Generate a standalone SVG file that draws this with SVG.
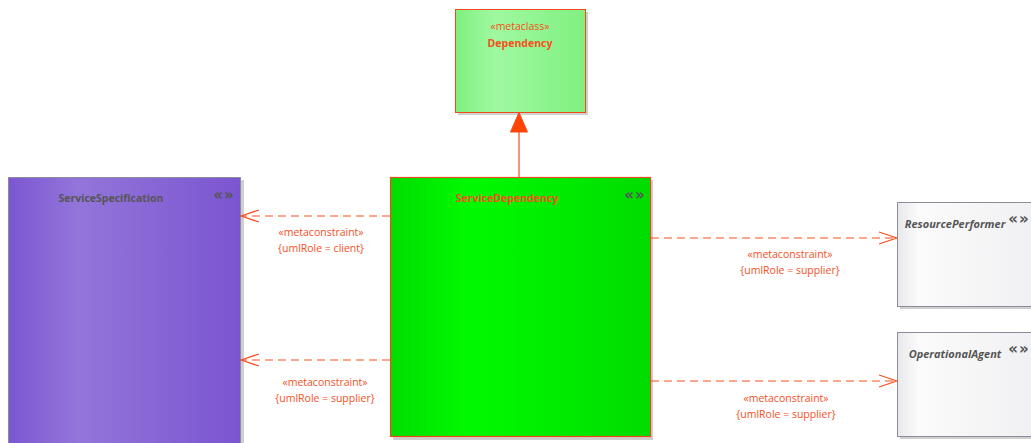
<svg xmlns="http://www.w3.org/2000/svg" width="1031" height="443" viewBox="0 0 1031 443">
<defs>
<linearGradient id="gPurple" x1="0" y1="0" x2="1" y2="0">
<stop offset="0" stop-color="#7c56d2"/><stop offset="0.3" stop-color="#9375da"/><stop offset="1" stop-color="#7b55d0"/>
</linearGradient>
<linearGradient id="gGreen" x1="0" y1="0" x2="1" y2="0">
<stop offset="0" stop-color="#00dd00"/><stop offset="0.3" stop-color="#00fa00"/><stop offset="1" stop-color="#00dc00"/>
</linearGradient>
<linearGradient id="gLight" x1="0" y1="0" x2="1" y2="0">
<stop offset="0" stop-color="#7ef07e"/><stop offset="0.3" stop-color="#a0f8a0"/><stop offset="1" stop-color="#80f080"/>
</linearGradient>
<linearGradient id="gGray" x1="0" y1="0" x2="1" y2="0">
<stop offset="0" stop-color="#e8e8ec"/><stop offset="0.15" stop-color="#fbfbfc"/><stop offset="1" stop-color="#f0f0f2"/>
</linearGradient>
<marker id="open" viewBox="0 0 20 14" refX="19" refY="7" markerWidth="20" markerHeight="14" markerUnits="userSpaceOnUse" orient="auto">
<path d="M1,1 L19,7 L1,13" fill="none" stroke="#f5501e" stroke-width="1.3"/>
</marker>
</defs>
<style>
.t{font-family:"Open Sans","Noto Sans","DejaVu Sans",sans-serif;font-size:10.5px;text-anchor:middle}
.o{fill:#f5501e}
.b{font-weight:bold}
.g{fill:#555}
.i{font-style:italic;font-size:11px}
.sh{fill:#cfcfcf}
.c{stroke:#f5501e;stroke-width:1.2;fill:none;stroke-dasharray:8,5}
.ic{font-family:"DejaVu Sans",sans-serif;font-size:15px;fill:#555;font-weight:bold;text-anchor:middle;letter-spacing:1px}
</style>
<rect width="1031" height="443" fill="#fff"/>
<g id="Dependency">
<rect x="458" y="12" width="130" height="103" class="sh"/>
<rect x="455.5" y="9.5" width="130" height="103" fill="url(#gLight)" stroke="#f04a1a" stroke-width="1"/>
<text x="520" y="30" class="t o">«metaclass»</text>
<text x="520" y="47" class="t o b">Dependency</text>
</g>
<g id="ServiceSpecification">
<rect x="11" y="180" width="233" height="270" class="sh"/>
<rect x="8.5" y="177.5" width="232" height="270" fill="url(#gPurple)" stroke="#8c8c9c" stroke-width="1"/>
<text x="111" y="202" class="t g b">ServiceSpecification</text>
<text x="224" y="200" class="ic">«»</text>
</g>
<g id="ServiceDependency">
<rect x="393" y="180" width="260" height="260" class="sh"/>
<rect x="390.5" y="177.5" width="260" height="259" fill="url(#gGreen)" stroke="#f04a1a" stroke-width="1.2"/>
<text x="507" y="202" class="t o b">ServiceDependency</text>
<text x="635" y="200" class="ic">«»</text>
</g>
<g id="ResourcePerformer">
<rect x="900" y="205" width="140" height="104" class="sh"/>
<rect x="897.5" y="202.5" width="140" height="104" fill="url(#gGray)" stroke="#8c8c9c" stroke-width="1"/>
<text x="955" y="228" class="t g b i">ResourcePerformer</text>
<text x="1019" y="224" class="ic">«»</text>
</g>
<g id="OperationalAgent">
<rect x="900" y="335" width="140" height="104" class="sh"/>
<rect x="897.5" y="332.5" width="140" height="104" fill="url(#gGray)" stroke="#8c8c9c" stroke-width="1"/>
<text x="955" y="358" class="t g b i">OperationalAgent</text>
<text x="1019" y="354" class="ic">«»</text>
</g>
<g id="connectors">
<line x1="519" y1="177" x2="519" y2="130" stroke="#f04a1a" stroke-width="1.2"/>
<polygon points="519,112.5 527.5,132 510.5,132" fill="#ff4500" stroke="#f04a1a" stroke-width="1"/>
<line x1="390" y1="216" x2="241" y2="216" class="c" marker-end="url(#open)"/>
<line x1="390" y1="360" x2="241" y2="360" class="c" marker-end="url(#open)"/>
<line x1="651" y1="238" x2="897" y2="238" class="c" marker-end="url(#open)"/>
<line x1="651" y1="381" x2="897" y2="381" class="c" marker-end="url(#open)"/>
<text x="321" y="236" class="t o">«metaconstraint»</text>
<text x="321" y="252" class="t o">{umlRole = client}</text>
<text x="325" y="386" class="t o">«metaconstraint»</text>
<text x="325" y="402" class="t o">{umlRole = supplier}</text>
<text x="790" y="258" class="t o">«metaconstraint»</text>
<text x="790" y="274" class="t o">{umlRole = supplier}</text>
<text x="786" y="402" class="t o">«metaconstraint»</text>
<text x="786" y="418" class="t o">{umlRole = supplier}</text>
</g>
</svg>
